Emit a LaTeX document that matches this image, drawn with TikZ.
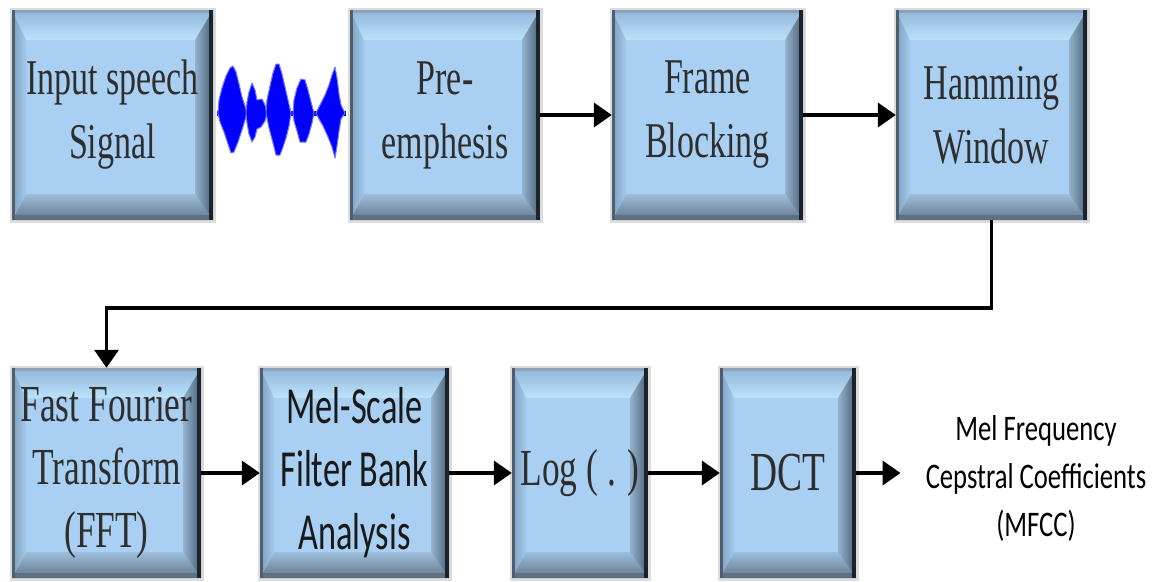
\documentclass[tikz,border=0pt]{standalone}
\usepackage{fontspec}
\usetikzlibrary{arrows.meta,calc}

% condensed faces for the block labels
\newfontfamily\boxserif[FakeStretch=0.68]{Liberation Serif}
\newfontfamily\boxsans[FakeStretch=0.66]{Carlito}
\newfontfamily\notesans[FakeStretch=0.74]{Carlito}

\definecolor{faceblue}{HTML}{A9D0F2}
\definecolor{bevTopA}{HTML}{90B5DB}
\definecolor{bevTopB}{HTML}{D8FDFF}
\definecolor{bevTopC}{HTML}{BCE3FA}
\definecolor{bevBotA}{HTML}{9EBEDB}
\definecolor{bevBotB}{HTML}{64788C}
\definecolor{bevLeftA}{HTML}{7E9EBF}
\definecolor{bevLeftB}{HTML}{A4CAEB}
\definecolor{bevRightA}{HTML}{92B2CF}
\definecolor{bevRightB}{HTML}{4C6074}
\definecolor{rimLeft}{HTML}{4E5E6E}
\definecolor{rimRight}{HTML}{1B232C}
\definecolor{rimTop}{HTML}{8CA2B8}
\definecolor{rimBottom}{HTML}{5E7083}
\definecolor{haloGrey}{HTML}{DCDCDC}
\definecolor{labelgrey}{HTML}{2E2E2E}
\definecolor{waveblue}{HTML}{0000FF}

% raised-button bevels, drawn inside each stage box
\newcommand\drawbevels{%
  \coordinate (bvSW) at (path picture bounding box.south west);
  \coordinate (bvNE) at (path picture bounding box.north east);
  \shade[top color=bevTopA, middle color=bevTopB, bottom color=bevTopC]
    let \p1=(bvSW), \p2=(bvNE) in
    (\x1,\y2) -- (\x2,\y2) -- (\x2-18pt,\y2-30pt) -- (\x1+14pt,\y2-30pt) -- cycle;
  \shade[top color=bevBotA, bottom color=bevBotB]
    let \p1=(bvSW), \p2=(bvNE) in
    (\x1,\y1) -- (\x2,\y1) -- (\x2-18pt,\y1+26pt) -- (\x1+14pt,\y1+26pt) -- cycle;
  \shade[left color=bevLeftA, right color=bevLeftB]
    let \p1=(bvSW), \p2=(bvNE) in
    (\x1,\y1) -- (\x1,\y2) -- (\x1+14pt,\y2-30pt) -- (\x1+14pt,\y1+26pt) -- cycle;
  \shade[left color=bevRightA, right color=bevRightB]
    let \p1=(bvSW), \p2=(bvNE) in
    (\x2,\y1) -- (\x2,\y2) -- (\x2-18pt,\y2-30pt) -- (\x2-18pt,\y1+26pt) -- cycle;
  \fill[rimTop] let \p1=(bvSW), \p2=(bvNE) in (\x1,\y2-3pt) rectangle (\x2,\y2);
  \fill[rimBottom] let \p1=(bvSW), \p2=(bvNE) in (\x1,\y1) rectangle (\x2,\y1+5pt);
  \fill[rimLeft] let \p1=(bvSW), \p2=(bvNE) in (\x1,\y1) rectangle (\x1+3pt,\y2);
  \fill[rimRight] let \p1=(bvSW), \p2=(bvNE) in (\x2-4pt,\y1) rectangle (\x2,\y2);
}

\tikzset{
  stage/.style={rectangle, inner sep=0pt, fill=faceblue,
    minimum width=#1, minimum height=210pt,
    preaction={draw=haloGrey, line width=5pt},
    path picture={\drawbevels},
    text=labelgrey, align=center},
  stage/.default=191pt,
  toprow/.style={font=\boxserif\fontsize{50}{64}\selectfont},
  lowserif/.style={font=\boxserif\fontsize{52}{63}\selectfont},
  bigserif/.style={font=\boxserif\fontsize{55}{63}\selectfont},
  lowsans/.style={font=\boxsans\fontsize{52}{63}\selectfont, text=black!90},
  outlabel/.style={inner sep=0pt, align=center, text=black,
    font=\notesans\fontsize{36}{48}\selectfont},
  flow/.style={line width=4pt, draw=black, -{Triangle[length=18pt,width=24pt]}},
  burst/.style={fill=waveblue, draw=waveblue!55!white, line width=1pt, line join=round}
}

\begin{document}
\begin{tikzpicture}[x=1pt, y=-1pt]
\useasboundingbox (0,0) rectangle (1156,581);

% upper row
\node[stage=201pt, toprow] (input) at (112.5,115) {Input speech\\Signal};
\node[stage=190pt, toprow] (pre)   at (445,115)   {Pre-\\emphesis};
\node[stage, toprow]       (frame) at (707.5,115) {Frame\\Blocking};
\node[stage, toprow]       (ham)   at (991.5,115) {Hamming\\Window};

% lower row
\node[stage=189pt, lowserif] (fft) at (106.5,473) {Fast Fourier\\Transform\\(FFT)};
\node[stage=189pt, lowsans]  (mel) at (354.5,473) {Mel-Scale\\Filter Bank\\Analysis};
\node[stage=136pt, lowserif] (log) at (580,473)   {Log ( . )};
\node[stage=136pt, bigserif] (dct) at (788,473)   {DCT};
\node[outlabel] (mfcc) at (1036,478) {Mel Frequency\\Cepstral Coefficients\\(MFCC)};

% speech waveform between the first two blocks
\draw[waveblue, line width=5pt] (217,113) -- (346,113);
\path[burst] (218,113) -- (219,100) -- (222,88) -- (226,76) -- (230,68) -- (233,66)
  -- (236,72) -- (239,84) -- (242,97) -- (245,106) -- (247,113) -- (245,120)
  -- (242,130) -- (238,142) -- (234,152) -- (231,153) -- (228,144) -- (224,132)
  -- (220,122) -- cycle;
\path[burst] (246,113) -- (247,102) -- (249,92) -- (252,83) -- (255,90) -- (257,100)
  -- (262,99) -- (265,105) -- (267,113) -- (265,121) -- (261,127) -- (257,129)
  -- (255,137) -- (252,142) -- (249,134) -- (247,123) -- cycle;
\path[burst] (266,113) -- (267,100) -- (270,86) -- (273,73) -- (276,64) -- (279,64)
  -- (282,74) -- (285,87) -- (288,100) -- (291,113) -- (289,126) -- (286,138)
  -- (283,147) -- (280,155) -- (276,155) -- (273,143) -- (269,128) -- cycle;
\path[burst] (293,113) -- (294,100) -- (297,88) -- (301,79) -- (305,80) -- (308,90)
  -- (311,102) -- (314,113) -- (312,123) -- (309,134) -- (306,142) -- (300,142)
  -- (297,131) -- (294,121) -- cycle;
\path[burst] (316,113) -- (320,105) -- (325,95) -- (329,85) -- (332,75) -- (335,67)
  -- (337,78) -- (339,94) -- (341,105) -- (345,113) -- (341,119) -- (339,131)
  -- (337,146) -- (335,158) -- (332,147) -- (328,137) -- (323,126) -- (319,119) -- cycle;

% connectors
\draw[flow] (pre.east) -- (frame.west);
\draw[flow] (frame.east) -- (ham.west);
\coordinate (turn) at (991.5,308);
\draw[flow, line width=3.5pt, line join=miter] (ham.south) -- (turn) -| (fft.north);
\draw[flow] (fft.east) -- (mel.west);
\draw[flow] (mel.east) -- (log.west);
\draw[flow] (log.east) -- (dct.west);
\draw[flow, shorten >=25pt] (dct.east) -- (dct.east -| mfcc.west);
\end{tikzpicture}
\end{document}
